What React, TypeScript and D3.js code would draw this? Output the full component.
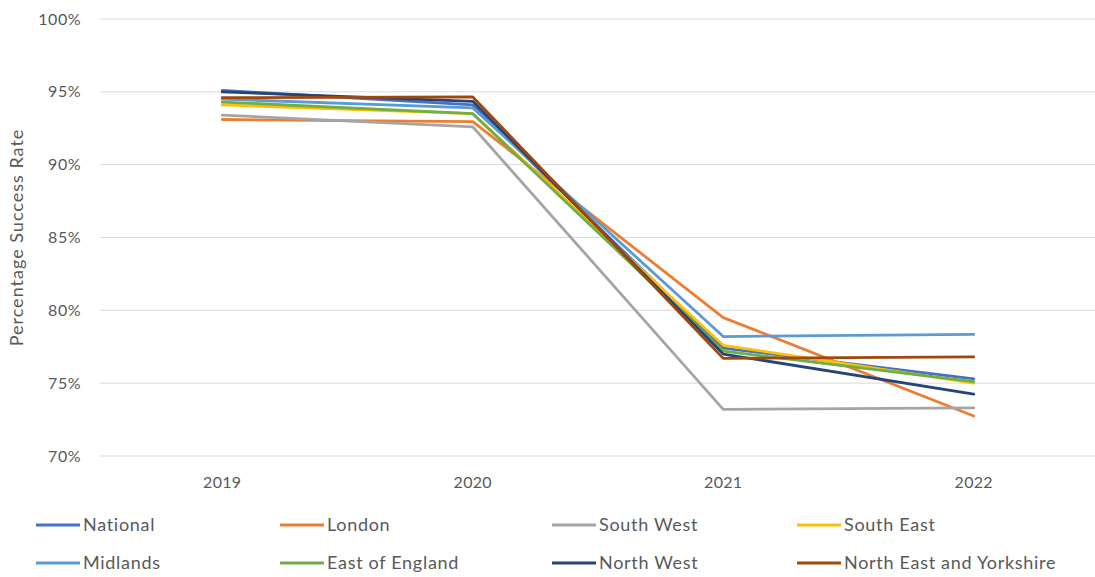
import React from "react";
import * as d3 from "d3";

const years = ["2019", "2020", "2021", "2022"];
const seriesNames = ["National", "London", "South West", "South East", "Midlands", "East of England", "North West", "North East and Yorkshire"];
const national = [95.1, 94.1, 77.4, 75.3];
const london = [93.1, 92.95, 79.5, 72.75];
const southWest = [93.4, 92.6, 73.2, 73.3];
const southEast = [94.1, 93.5, 77.6, 75.0];
const midlands = [94.5, 93.9, 78.2, 78.35];
const eastOfEngland = [94.3, 93.5, 77.2, 75.1];
const northWest = [95.0, 94.35, 77.0, 74.25];
const northEastYorkshire = [94.6, 94.65, 76.7, 76.8];
const yTicks = [70, 75, 80, 85, 90, 95, 100];
const colors = ["#4472C4", "#ED7D31", "#A5A5A5", "#FFC000", "#5B9BD5", "#70AD47", "#264478", "#9E480E"];

const allValues = [national, london, southWest, southEast, midlands, eastOfEngland, northWest, northEastYorkshire];

export default function App() {
  const W = 1095, H = 577;
  const x = d3.scaleBand().domain(years).range([97, 1099]);
  const y = d3.scaleLinear().domain([70, 100]).range([456, 19]);
  const line = d3.line<number>()
    .x((_, i) => (x(years[i]) as number) + x.bandwidth() / 2)
    .y((d) => y(d));
  const font = "Lato, 'Open Sans', sans-serif";
  const txt = "#595959";
  const legendCols = [36, 280, 552, 797];
  const legendRows = [525, 563];
  return (
    <svg width={W} height={H} style={{ position: "absolute", left: 0, top: 0, background: "#fff" }}>
      {yTicks.map((t) => (
        <g key={t}>
          <line x1={100} x2={1095} y1={y(t)} y2={y(t)} stroke="#D9D9D9" strokeWidth={1} />
          <text x={81} y={y(t)} dy="0.35em" textAnchor="end" fontFamily={font} fontSize={16} letterSpacing={0.5} fill={txt}>{t}%</text>
        </g>
      ))}
      {years.map((yr) => (
        <text key={yr} x={(x(yr) as number) + x.bandwidth() / 2} y={482} dy="0.35em" textAnchor="middle" fontFamily={font} fontSize={16} letterSpacing={0.3} fill={txt}>{yr}</text>
      ))}
      <text transform={`translate(23,${y(85)}) rotate(-90)`} textAnchor="middle" fontFamily={font} fontSize={18} letterSpacing={1} fill={txt}>Percentage Success Rate</text>
      {allValues.map((vals, i) => (
        <path key={i} d={line(vals) || ""} fill="none" stroke={colors[i]} strokeWidth={2.8} strokeLinejoin="round" strokeLinecap="round" />
      ))}
      {seriesNames.map((name, i) => {
        const cx = legendCols[i % 4];
        const cy = legendRows[Math.floor(i / 4)];
        return (
          <g key={name}>
            <line x1={cx} x2={cx + 44} y1={cy} y2={cy} stroke={colors[i]} strokeWidth={2.8} />
            <text x={cx + 47} y={cy} dy="0.35em" fontFamily={font} fontSize={18} letterSpacing={0.7} fill={txt}>{name}</text>
          </g>
        );
      })}
    </svg>
  );
}
